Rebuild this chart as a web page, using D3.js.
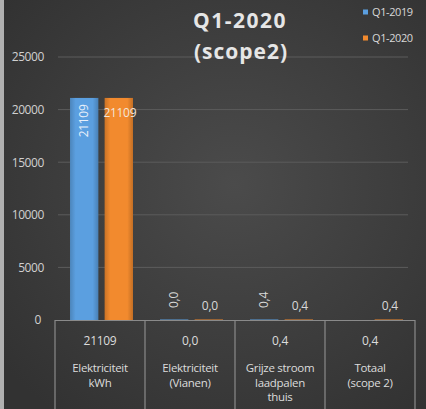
<!DOCTYPE html>
<html><head><meta charset="utf-8">
<script src="https://cdn.jsdelivr.net/npm/d3@7"></script>
<style>html,body{margin:0;padding:0;background:#3a3a3a;overflow:hidden}</style>
</head><body>
<svg id="c" width="426" height="409"></svg>
<script>
const categories = ["Elektriciteit\nkWh", "Elektriciteit\n(Vianen)", "Grijze stroom\nlaadpalen\nthuis", "Totaal\n(scope 2)"];
const seriesNames = ["Q1-2019", "Q1-2020"];
const q2019 = [21109, 0.0, 0.4, null];
const q2020 = [21109, 0.0, 0.4, 0.4];
const tableRow = ["21109", "0,0", "0,4", "0,4"];
const yTicks = [0, 5000, 10000, 15000, 20000, 25000];
const colors = ["#5b9fe0", "#f28a2e"];

(function(){
const svg = d3.select("#c");
const defs = svg.append("defs");
const bg = defs.append("radialGradient").attr("id","bg").attr("cx","55%").attr("cy","45%").attr("r","70%");
bg.append("stop").attr("offset","0%").attr("stop-color","#4b4b4b");
bg.append("stop").attr("offset","100%").attr("stop-color","#323232");
colors.forEach((c,i)=>{
  const g = defs.append("linearGradient").attr("id","bar"+i).attr("x1","0").attr("x2","1");
  g.append("stop").attr("offset","0%").attr("stop-color",d3.color(c).darker(0.5));
  g.append("stop").attr("offset","20%").attr("stop-color",c);
  g.append("stop").attr("offset","80%").attr("stop-color",c);
  g.append("stop").attr("offset","100%").attr("stop-color",d3.color(c).darker(0.6));
});

svg.append("rect").attr("width",426).attr("height",409).attr("fill","url(#bg)");
svg.append("rect").attr("width",4).attr("height",409).attr("fill","#b0b0b0");

const pLeft = 55, pRight = 415, pTop = 57, base = 320;
const y = d3.scaleLinear().domain([0, 25000]).range([base, pTop]);
const x = d3.scaleBand().domain(d3.range(categories.length)).range([pLeft, pRight]).padding(0);
const xs = d3.scaleBand().domain([0,1]).range([15, 78]).paddingInner(0.18);

// gridlines
svg.append("g").selectAll("line").data(yTicks.filter(t=>t>0)).join("line")
  .attr("x1",58).attr("x2",408).attr("y1",d=>y(d)).attr("y2",d=>y(d))
  .attr("stroke","#5c5c5c").attr("stroke-width",1);

const font = "'Open Sans', sans-serif";
// y axis labels
const yAxis = d3.axisLeft(y).tickValues(yTicks).tickSize(0).tickPadding(0).tickFormat(d3.format("d"));
const ga = svg.append("g").attr("transform","translate(44,0)").call(yAxis);
ga.select(".domain").remove();
ga.selectAll("text").attr("fill","#d0d0d0").attr("font-family",font).attr("font-size","12px").attr("letter-spacing","-0.4px");
ga.selectAll(".tick").filter(d=>d===0).select("text").attr("dx", -3);

// bars
const series = [q2019, q2020];
series.forEach((vals, si) => {
  const g = svg.append("g");
  g.selectAll("rect").data(vals.map((v,i)=>({v,i})).filter(d=>d.v!==null)).join("rect")
    .attr("x", d=>x(d.i)+xs(si)).attr("width", xs.bandwidth())
    .attr("y", d=>Math.min(y(d.v), base-1)).attr("height", d=>Math.max(base-y(d.v),1))
    .attr("fill", d=>d.v>1000?`url(#bar${si})`:d3.color(colors[si]).copy({opacity:0.5}));
});

// data labels
const fmt = v => v.toFixed(v>=100?0:1).replace(".", ",");
q2019.forEach((v,i)=>{
  if (v===null) return;
  const cx = x(i)+xs(0)+xs.bandwidth()/2;
  const big = v>1000;
  const cy = big ? y(v)+23 : base-20;
  svg.append("text").attr("transform",`translate(${cx+4},${cy}) rotate(-90)`)
    .attr("text-anchor","middle").attr("fill", big?"#e8f0fa":"#d8d8d8")
    .attr("font-family",font).attr("font-size","12px").attr("letter-spacing","-0.3px").text(fmt(v));
});
q2020.forEach((v,i)=>{
  if (v===null) return;
  const cx = x(i)+xs(1)+xs.bandwidth()/2;
  const big = v>1000;
  const cy = big ? y(v)+19 : base-10;
  svg.append("text").attr("x",cx+1).attr("y",cy).attr("text-anchor","middle")
    .attr("fill", big?"#f4e6da":"#d8d8d8").attr("font-family",font).attr("font-size","12px").attr("letter-spacing","-0.3px").text(fmt(v));
});

// data table
const tb = svg.append("g").attr("stroke","#8a8a8a").attr("stroke-width",1.2);
tb.append("line").attr("x1",pLeft).attr("x2",pRight).attr("y1",base+0.5).attr("y2",base+0.5);
d3.range(categories.length+1).forEach(i=>{
  const xx = i<categories.length ? x(i) : pRight;
  tb.append("line").attr("x1",xx).attr("x2",xx).attr("y1",base).attr("y2",409);
});
categories.forEach((c,i)=>{
  const cx = x(i)+x.bandwidth()/2;
  svg.append("text").attr("x",cx).attr("y",345).attr("text-anchor","middle")
    .attr("fill","#dcdcdc").attr("font-family",font).attr("font-size","12px").attr("letter-spacing","-0.3px").text(tableRow[i]);
  c.split("\n").forEach((line,k)=>{
    svg.append("text").attr("x",cx).attr("y",372+k*14.5).attr("text-anchor","middle")
      .attr("fill","#dcdcdc").attr("font-family",font).attr("font-size","11.5px").attr("letter-spacing","-0.3px").text(line);
  });
});

// title
svg.append("text").attr("x",240).attr("y",28).attr("text-anchor","middle").attr("fill","#e6e6e6")
  .attr("font-family",font).attr("font-weight","bold").attr("font-size","21px").attr("letter-spacing","1.5px").text("Q1-2020");
svg.append("text").attr("x",241).attr("y",59).attr("text-anchor","middle").attr("fill","#e6e6e6")
  .attr("font-family",font).attr("font-weight","bold").attr("font-size","21px").attr("letter-spacing","1px").text("(scope2)");

// legend
seriesNames.forEach((n,i)=>{
  const ly = 12 + i*26;
  svg.append("rect").attr("x",363).attr("y",ly-2.5).attr("width",5).attr("height",5).attr("fill",colors[i]);
  svg.append("text").attr("x",372).attr("y",ly+4).attr("fill","#d8d8d8")
    .attr("font-family",font).attr("font-size","11px").attr("letter-spacing","-0.4px").text(n);
});
})();
</script>
</body></html>
